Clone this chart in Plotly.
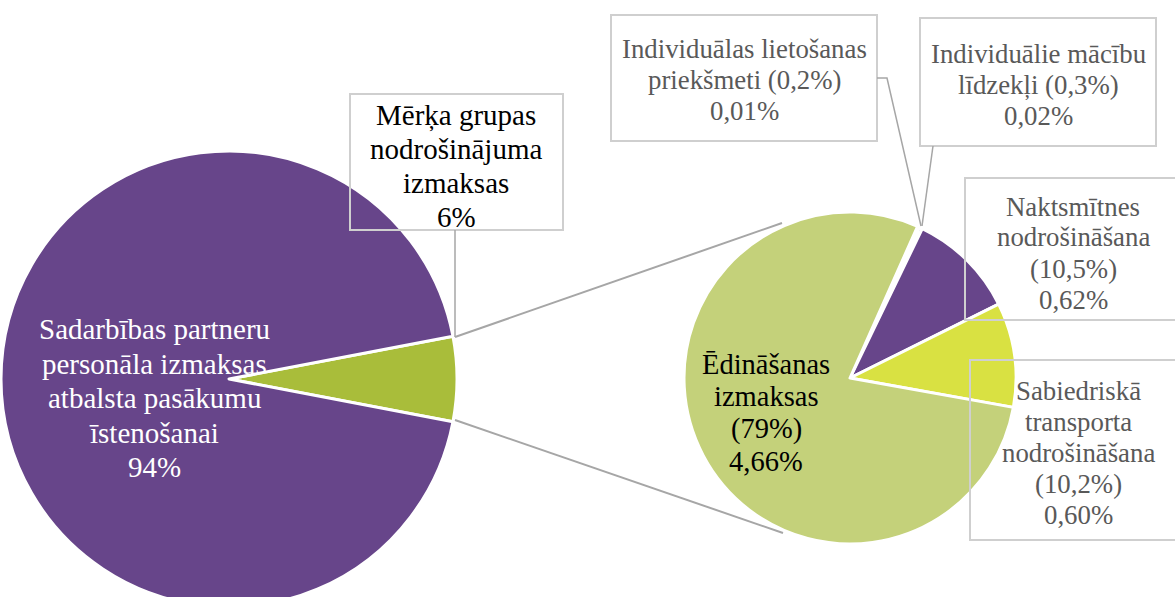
import plotly.graph_objects as go

W, H = 1175, 612   # figure slightly taller than the 597 px window; the extra is cut off like the source

# ---- data ----
left_labels = ["Mērķa grupas nodrošinājuma izmaksas",
               "Sadarbības partneru personāla izmaksas atbalsta pasākumu īstenošanai"]
left_values = [6, 94]

right_labels = ["Individuālas lietošanas priekšmeti",
                "Individuālie mācību līdzekļi",
                "Naktsmītnes nodrošināšana",
                "Sabiedriskā transporta nodrošināšana",
                "Ēdināšanas izmaksas"]
right_shares = [0.2, 0.3, 10.5, 10.2, 79]          # % of the 6% group
right_totals = ["0,01%", "0,02%", "0,62%", "0,60%", "4,66%"]  # % of total

# ---- styling ----
PURPLE = "#67458a"
GREEN_L = "#a9bd3a"
GREEN_R = "#c4d17a"
YELLOW = "#d9e142"
GREY_TXT = "#595959"
BOX = "#cfcfcf"
LINE = "#a6a6a6"
FONT = "'Liberation Serif', 'Times New Roman', Times, 'DejaVu Serif', serif"


def px(x):
    return x / W


def py(y):
    return 1 - y / H


fig = go.Figure()

fig.add_trace(go.Pie(
    labels=left_labels, values=left_values, sort=False,
    direction="clockwise", rotation=90 - 360 * left_values[0] / sum(left_values) / 2,
    marker=dict(colors=[GREEN_L, PURPLE], line=dict(color="white", width=3)),
    textinfo="none", hoverinfo="label+percent", showlegend=False,
    domain=dict(x=[px(1), px(457)], y=[py(607), py(151)]),
))

tot_r = sum(right_shares)
# clockwise from the two tiny slices; yellow ends 10.2 deg below 3 o'clock
start = 100.2 - 360 * sum(right_shares[:4]) / tot_r
fig.add_trace(go.Pie(
    labels=right_labels, values=right_shares, sort=False,
    direction="clockwise", rotation=start,
    marker=dict(colors=[PURPLE, PURPLE, PURPLE, YELLOW, GREEN_R],
                line=dict(color="white", width=3)),
    textinfo="none", hoverinfo="label+value", showlegend=False,
    domain=dict(x=[px(684), px(1016)], y=[py(544), py(212)]),
))

shapes = []
annotations = []


def box(x0, y0, x1, y1):
    shapes.append(dict(type="rect", xref="paper", yref="paper",
                       x0=px(x0), x1=px(x1), y0=py(y1), y1=py(y0),
                       line=dict(color=BOX, width=2), fillcolor="rgba(0,0,0,0)"))


def seg(points, color=LINE, width=1.5):
    path = "M " + " L ".join(f"{px(x)},{py(y)}" for x, y in points)
    shapes.append(dict(type="path", xref="paper", yref="paper", path=path,
                       line=dict(color=color, width=width)))


def label(lines, x, yc, color, size, gap):
    n = len(lines)
    for i, t in enumerate(lines):
        y = yc + (i - (n - 1) / 2) * gap
        annotations.append(dict(text=t, x=px(x), y=py(y), xref="paper", yref="paper",
                                xanchor="center", yanchor="middle", showarrow=False,
                                align="center", font=dict(family=FONT, size=size, color=color)))


def share_txt(v):
    return f"{v:g}".replace(".", ",") + "%"


# connector lines between the pies
seg([(455, 337), (782, 223)], width=2)
seg([(455, 420), (783, 533)], width=2)

# left pie labels
label(["Sadarbības partneru", "personāla izmaksas", "atbalsta pasākumu", "īstenošanai",
       f"{left_values[1]}%"], 154, 398, "white", 29, 34.5)
box(350, 94, 563, 230)
seg([(455, 230), (455, 337)])
label(["Mērķa grupas", "nodrošinājuma", "izmaksas", f"{left_values[0]}%"],
      456, 166, "black", 29, 34)

# right pie labels
box(611, 15, 877, 141)
seg([(877, 78), (887, 78), (921, 226)])
label(["Individuālas lietošanas", "priekšmeti (" + share_txt(right_shares[0]) + ")",
       right_totals[0]], 744, 80, GREY_TXT, 26.8, 31)

box(920, 18, 1156, 146)
seg([(933, 146), (922, 226)])
label(["Individuālie mācību", "līdzekļi (" + share_txt(right_shares[1]) + ")",
       right_totals[1]], 1038, 85, GREY_TXT, 26.8, 31)

box(965, 178, 1185, 320)
label(["Naktsmītnes", "nodrošināšana", "(" + share_txt(right_shares[2]) + ")",
       right_totals[2]], 1073, 253, GREY_TXT, 26.8, 31)

box(970, 360, 1190, 540)
label(["Sabiedriskā", "transporta", "nodrošināšana", "(" + share_txt(right_shares[3]) + ")",
       right_totals[3]], 1078, 453, GREY_TXT, 26.8, 31)

label(["Ēdināšanas", "izmaksas", "(" + share_txt(right_shares[4]) + ")", right_totals[4]],
      766, 413, "black", 28.5, 32.5)

fig.update_layout(
    width=W, height=H, margin=dict(l=0, r=0, t=0, b=0),
    paper_bgcolor="white", plot_bgcolor="white",
    font=dict(family=FONT),
    shapes=shapes, annotations=annotations,
)

fig.write_html("out.html", config={"displayModeBar": False},
               post_script="document.documentElement.style.overflow='hidden';"
                           "document.body.style.margin='0';document.body.style.overflow='hidden';")
